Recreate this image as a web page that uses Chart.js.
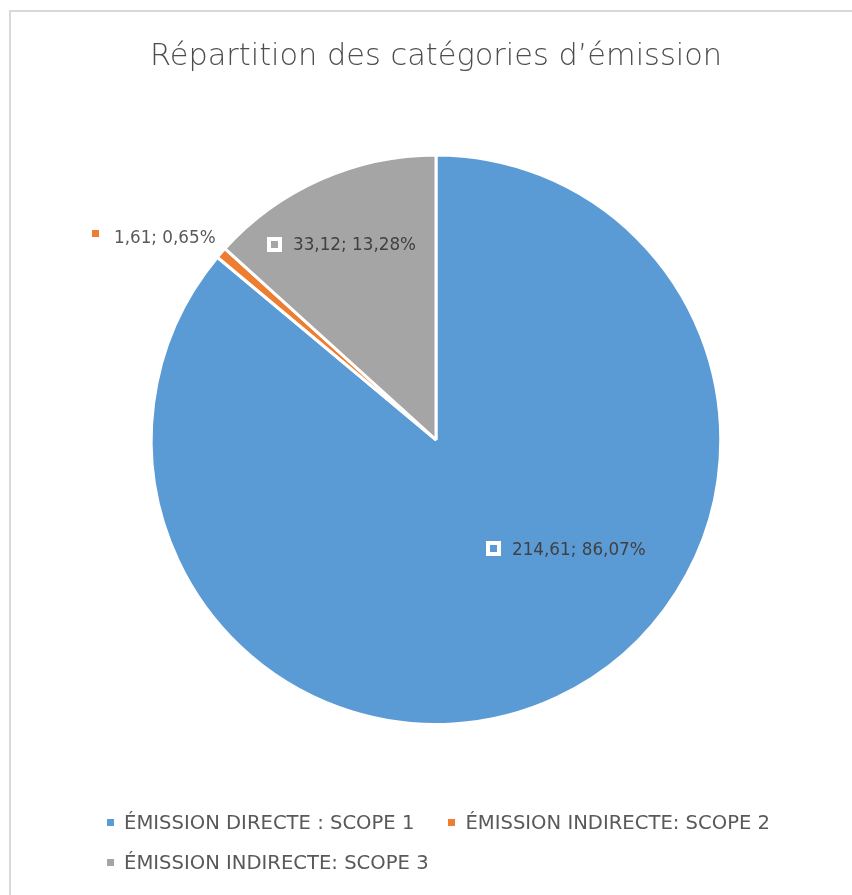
<!DOCTYPE html>
<html>
<head>
<meta charset="utf-8">
<script src="https://cdn.jsdelivr.net/npm/chart.js@4"></script>
<style>
  html, body { margin: 0; padding: 0; background: #fff; overflow: hidden; }
  #frame {
    position: absolute; left: 9px; top: 10px; width: 860px; height: 900px;
    border-left: 2px solid #d9d9d9; border-top: 2px solid #d9d9d9;
    box-sizing: border-box;
  }
  #wrap { position: absolute; left: 0; top: 0; width: 841px; height: 883px; }
  #legend {
    position: absolute; left: 96px; top: 799px; width: 720px;
    font-family: 'DejaVu Sans', sans-serif; font-size: 19.6px; color: #595959;
    display: flex; flex-wrap: wrap; row-gap: 17px; column-gap: 34px;
  }
  #legend span.item { display: inline-flex; align-items: center; white-space: pre; }
  #legend b { display: inline-block; width: 7px; height: 7px; margin-right: 10px; }
</style>
</head>
<body>
<div id="frame">
  <div id="wrap"><canvas id="pie"></canvas></div>
  <div id="legend"></div>
</div>
<script>
const categories = ['ÉMISSION DIRECTE : SCOPE 1', 'ÉMISSION INDIRECTE: SCOPE 2', 'ÉMISSION INDIRECTE: SCOPE 3'];
const emissions = [214.61, 1.61, 33.12];
const colors = ['#5b9bd5', '#ed7d31', '#a5a5a5'];

const fmt = v => v.toFixed(2).replace('.', ',');

// labels drawn like Excel data labels: key square + "value; percent"
const sliceLabels = {
  id: 'sliceLabels',
  afterDatasetsDraw(chart, args, opts) {
    const ctx = chart.ctx;
    const meta = chart.getDatasetMeta(0);
    const total = emissions.reduce((a, b) => a + b, 0);
    ctx.save();
    ctx.font = opts.font;
    ctx.textBaseline = 'middle';
    meta.data.forEach((arc, i) => {
      const p = opts.place[i];
      const mid = (arc.startAngle + arc.endAngle) / 2 + p.shift * Math.PI / 180;
      const r = arc.outerRadius * p.r;
      const cx = arc.x + Math.cos(mid) * r;
      const cy = arc.y + Math.sin(mid) * r;
      const text = fmt(emissions[i]) + '; ' + fmt(emissions[i] / total * 100) + '%';
      const tw = ctx.measureText(text).width;
      const w = 15 + 11 + tw;
      const x0 = Math.round(cx - w / 2);
      const my = Math.round(cy + p.mdy);
      ctx.fillStyle = '#ffffff';
      ctx.fillRect(x0, my - 7, 15, 15);
      ctx.fillStyle = colors[i];
      ctx.fillRect(x0 + 4, my - 3, 7, 7);
      ctx.fillStyle = p.color;
      ctx.fillText(text, x0 + 26, cy + 1);
    });
    ctx.restore();
  }
};

new Chart(document.getElementById('pie'), {
  type: 'pie',
  data: {
    labels: categories,
    datasets: [{
      data: emissions,
      backgroundColor: colors,
      borderColor: '#ffffff',
      borderWidth: 3
    }]
  },
  plugins: [sliceLabels],
  options: {
    responsive: true,
    maintainAspectRatio: false,
    animation: false,
    layout: { padding: { left: 9, right: 0, top: 0, bottom: 169 } },
    plugins: {
      legend: { display: false },
      tooltip: { enabled: false },
      title: {
        display: true,
        text: 'Répartition des catégories d’émission',
        color: '#4d4d4d',
        font: { family: 'DejaVu Sans', size: 30.4, weight: 200, lineHeight: 1.2 },
        padding: { top: 27, bottom: 78 }
      },
      sliceLabels: {
        font: '16.8px "DejaVu Sans"',
        place: [
          { shift: -24.5, r: 0.597, mdy: -2, color: '#404040' },
          { shift: -5.5, r: 1.224, mdy: -4, color: '#595959' },
          { shift: -1.8, r: 0.762, mdy: 0, color: '#404040' }
        ]
      }
    }
  }
});

const legend = document.getElementById('legend');
categories.forEach((c, i) => {
  const s = document.createElement('span');
  s.className = 'item';
  const key = document.createElement('b');
  key.style.background = colors[i];
  s.appendChild(key);
  s.appendChild(document.createTextNode(c));
  legend.appendChild(s);
});
</script>
</body>
</html>
